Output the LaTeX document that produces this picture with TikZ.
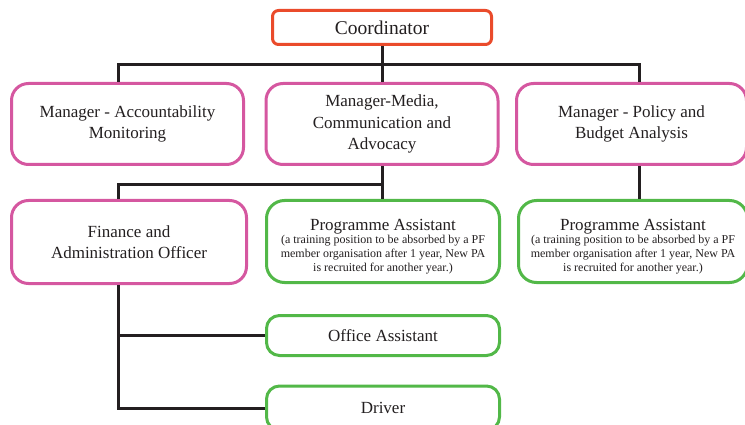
\documentclass[tikz,border=0pt]{standalone}
\usepackage{fontspec}
\setmainfont{Liberation Serif}
\definecolor{ink}{HTML}{231F20}
\definecolor{boxred}{HTML}{EA4B2B}
\definecolor{boxpink}{HTML}{D557A0}
\definecolor{boxgreen}{HTML}{52B848}
\tikzset{
  box/.style={draw, line width=3pt, align=center, text=ink, inner sep=0pt, fill=white,
    font=\fontsize{17}{21.5}\selectfont},
  redbox/.style={box, draw=boxred, rounded corners=6pt, font=\fontsize{19.5}{22}\selectfont},
  pinkbox/.style={box, draw=boxpink, rounded corners=17pt},
  greenbox/.style={box, draw=boxgreen, rounded corners=18pt},
  smallgreen/.style={box, draw=boxgreen, rounded corners=13pt},
  conn/.style={draw=ink, line width=3pt}
}
\newcommand{\panote}{{\fontsize{12}{14}\selectfont\begin{tabular}[t]{@{}c@{}}(a training position to be absorbed by a PF\\member organisation after 1 year, New PA\\is recruited for another year.)\end{tabular}}}
\newcommand{\patext}{\rule{0pt}{24pt}Programme Assistant\\[-8.5pt]\panote}
\begin{document}
\begin{tikzpicture}[x=1pt,y=-1pt]
\useasboundingbox (0,0) rectangle (745,425);
\coordinate (j1) at (382,65);
\coordinate (j2) at (382,185);
% nodes
\node[redbox, minimum width=219pt, minimum height=34pt] (coord) at (382,27.5) {Coordinator};
\node[pinkbox, minimum width=232pt, minimum height=81pt] (acc) at (127.5,124) {Manager - Accountability\\Monitoring};
\node[pinkbox, minimum width=232pt, minimum height=81pt] (media) at (382,124) {Manager-Media,\\Communication and\\Advocacy};
\node[pinkbox, minimum width=230pt, minimum height=81pt] (pol) at (631.5,124) {Manager - Policy and\\Budget Analysis};
\node[pinkbox, minimum width=235pt, minimum height=83pt] (fin) at (129,242) {Finance and\\Administration Officer};
\node[greenbox, minimum width=233pt, minimum height=82pt] (pa1) at (383,241.5) {\patext};
\node[greenbox, minimum width=229pt, minimum height=82pt] (pa2) at (633,241.5) {\patext};
\node[smallgreen, minimum width=233pt, minimum height=40pt] (office) at (383,335.5) {Office Assistant};
\node[smallgreen, minimum width=233pt, minimum height=44pt] (driver) at (383,408) {Driver};
% connectors
\draw[conn] (coord.south) -- (coord.south |- j1);
\draw[conn] ([xshift=-9pt]acc.north) |- (j1) -| ([xshift=7.5pt]pol.north);
\draw[conn] (j1) -- (j1 |- media.north);
\draw[conn] (media.south -| j2) -- (j2 |- pa1.north);
\draw[conn] ([xshift=-10.5pt]fin.north) |- (j2);
\draw[conn] ([xshift=7.5pt]pol.south) -- ([xshift=7.5pt]pol.south |- pa2.north);
\draw[conn] ([xshift=-10.5pt]fin.south) |- (driver.west);
\draw[conn] ([xshift=-10.5pt]fin.south |- office.west) -- (office.west);
\end{tikzpicture}
\end{document}
